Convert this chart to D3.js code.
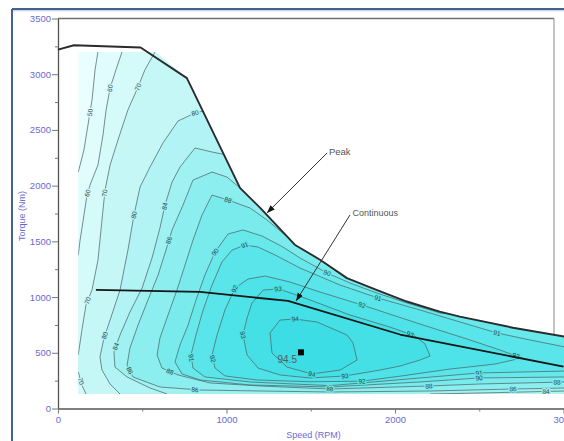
<!DOCTYPE html>
<html><head><meta charset="utf-8">
<script src="https://cdn.jsdelivr.net/npm/d3@7"></script>
<style>
html,body{margin:0;padding:0;background:#fff;}
svg{display:block;font-family:"Liberation Sans",Arial,sans-serif;}
</style></head><body>
<svg id="chart" width="564" height="441"></svg>
<script>
// ---------------- data ----------------
const speedTicks = [0, 1000, 2000, 3000];
const speedMinor = [500, 1500, 2500];
const torqueTicks = [0, 500, 1000, 1500, 2000, 2500, 3000, 3500];
const torqueMinor = [250, 750, 1250, 1750, 2250, 2750, 3250];

const levels = [50, 60, 70, 80, 84, 86, 88, 90, 91, 92, 93, 94];
const bandColors = ["#e9fefe", "#e0fcfc", "#d4fafa", "#c5f7f7", "#b2f4f5", "#a0f1f2",
  "#8deef0", "#79ebed", "#67e8eb", "#59e5e9", "#4de3e8", "#44e0e6", "#3cdde4"];

// peak torque curve (speed rpm, torque Nm)
const peakSpeed  = [0, 95, 490, 765, 1080, 1200, 1405, 1555, 1715, 1890, 2070, 2265, 2385, 2700, 3005];
const peakTorque = [3220, 3260, 3240, 2965, 1980, 1800, 1470, 1335, 1170, 1065, 960, 870, 825, 725, 645];
// continuous torque curve
const contSpeed  = [225, 843, 1365, 2030, 3000];
const contTorque = [1064, 1046, 965, 664, 375];
// measured map area
const mapMinSpeed = 120, mapMaxSpeed = 3010, mapMinTorque = 130, mapMaxTorque = 3200, mapTopCornerSpeed = 575;

// efficiency contours [speed, torque]
const c50 = [[237,3200],[220,3040],[202,2770],[178,2545],[154,2320],[120,2120]];
const c60 = [[380,3200],[344,3040],[309,2875],[285,2675],[267,2455],[237,2185],[190,2005],[172,1915],[154,1735],[131,1510],[120,1375]];
const c70 = [[576,3200],[516,3040],[475,2885],[415,2680],[356,2410],[309,2185],[279,1960],[261,1690],[237,1330],[202,1065],[166,930],[142,705],[120,480]];
const c70b = [[120,330],[142,210],[166,130]];
const c80 = [[861,2669],[813,2652],[712,2580],[623,2383],[546,2167],[487,1988],[451,1737],[415,1422],[368,1063],[309,794],[273,633],[249,462],[261,345],[309,220],[368,130]];
const c84 = [[985,2280],[914,2302],[813,2338],[724,2167],[677,2032],[635,1826],[605,1620],[558,1351],[499,1081],[427,866],[368,660],[332,507],[338,372],[410,283],[546,184],[647,130]];
const c84b = [[2208,130],[2505,139],[3010,157]];
const c86 = [[1080,1979],[1003,2077],[914,2122],[801,2050],[742,1826],[677,1602],[641,1422],[594,1198],[534,974],[475,749],[427,543],[410,390],[445,283],[605,193],[843,166],[1199,157],[1614,148],[2208,157],[2700,175],[3010,184]];
const c88 = [[1383,1512],[1240,1692],[1140,1799],[1009,1871],[914,1916],[855,1737],[801,1512],[754,1288],[706,1063],[653,839],[605,633],[588,480],[617,363],[712,301],[902,229],[1199,202],[1614,175],[2202,202],[2505,220],[3010,238]];
const c90 = [[2460,830],[2267,857],[2071,947],[1893,1036],[1733,1126],[1597,1216],[1436,1351],[1335,1449],[1211,1548],[1098,1602],[1009,1566],[932,1404],[872,1198],[819,974],[772,749],[724,570],[694,417],[736,310],[843,256],[1140,211],[1614,193],[2148,238],[2499,274],[3010,283]];
const c91 = [[3010,552],[2801,615],[2605,678],[2386,776],[2148,884],[1899,992],[1674,1108],[1436,1261],[1288,1378],[1187,1449],[1110,1467],[1033,1422],[973,1315],[914,1108],[861,884],[819,660],[789,480],[801,363],[872,283],[1140,238],[1614,205],[2148,274],[2499,319],[3010,336]];
const c92 = [[2753,453],[2623,525],[2445,615],[2148,758],[1804,929],[1555,1045],[1377,1135],[1229,1189],[1128,1162],[1050,1081],[991,884],[944,660],[914,480],[932,363],[991,292],[1181,256],[1496,240],[1804,245],[2030,290],[2327,354],[2594,399],[2753,453]];
const c93 = [[1217,1063],[1306,1072],[1365,1045],[1496,974],[1733,839],[1970,731],[2118,651],[2178,579],[2208,471],[2148,435],[2030,381],[1911,345],[1703,292],[1496,274],[1318,301],[1187,363],[1122,480],[1098,660],[1122,812],[1151,947],[1217,1063]];
const c94 = [[1407,803],[1318,794],[1258,678],[1270,498],[1359,372],[1507,310],[1674,345],[1775,435],[1751,588],[1715,660],[1537,776],[1407,803]];

// contour labels [level, speed, torque]
const contourLabels = [
  [50,172,2661],[60,303,2876],[70,475,2885],[80,813,2652],
  [60,172,1934],[70,273,1934],[80,451,1737],[84,629,1817],[88,1009,1871],[86,653,1512],[90,932,1404],[91,1110,1458],[92,1039,1081],[93,1306,1072],
  [70,166,974],[80,267,660],[84,350,552],[86,410,328],[70,125,240],[88,665,336],[91,783,453],[92,914,444],[86,813,175],[93,1098,660],
  [94,1407,803],[94,1507,310],[93,1703,283],[92,1804,240],[88,1614,175],
  [90,1597,1216],[91,1899,992],[92,1804,929],[93,2089,660],[91,2605,678],[90,2398,821],[92,2718,471],
  [91,2499,319],[90,2499,274],[88,2202,202],[86,2700,175],[84,2896,148],[88,2961,238]
];

// best efficiency point
const bestPoint = [1442, 504];
const bestLabel = "94.5";
// annotations: text, arrow tail, arrow tip, text anchor
const noteTexts = ["Peak", "Continuous"];
const noteTails = [[1597, 2293], [1733, 1737]];
const noteTips = [[1240, 1755], [1413, 965]];
const noteTextPos = [[1608, 2279], [1748, 1732]];

// ---------------- drawing ----------------
const W = 564, H = 441;
const svg = d3.select("#chart");
const x = d3.scaleLinear().domain([0, 3000]).range([58, 563.5]);
const y = d3.scaleLinear().domain([0, 3500]).range([408.5, 18.5]);
const line = d3.line().x(d => x(d[0])).y(d => y(d[1]));

const peak = peakSpeed.map((s, i) => [s, peakTorque[i]]);
const cont = contSpeed.map((s, i) => [s, contTorque[i]]);

const mapRegion = [[mapMinSpeed, mapMinTorque], [mapMinSpeed, mapMaxTorque], [mapTopCornerSpeed, mapMaxTorque]]
  .concat(peak.filter(p => p[0] >= 765))
  .concat([[mapMaxSpeed, peak[peak.length - 1][1]], [mapMaxSpeed, mapMinTorque]]);

const far = { l: -200, r: 3300, b: -200, t: 3600 };
const contours = [
  { level: 50, lines: [c50], ring: [...c50, [far.l,2120],[far.l,far.b],[far.r,far.b],[far.r,far.t],[237,far.t]] },
  { level: 60, lines: [c60], ring: [...c60, [far.l,1375],[far.l,far.b],[far.r,far.b],[far.r,far.t],[380,far.t]] },
  { level: 70, lines: [c70, c70b], ring: [...c70, [far.l,480],[far.l,330], ...c70b, [166,far.b],[far.r,far.b],[far.r,far.t],[576,far.t]] },
  { level: 80, lines: [c80], ring: [...c80, [368,far.b],[far.r,far.b],[far.r,far.t],[861,far.t]] },
  { level: 84, lines: [c84, c84b], ring: [...c84, [647,far.b],[2208,far.b], ...c84b, [far.r,157],[far.r,far.t],[985,far.t]] },
  { level: 86, lines: [c86], ring: [...c86, [far.r,184],[far.r,far.t],[1080,far.t]] },
  { level: 88, lines: [c88], ring: [...c88, [far.r,238],[far.r,far.t],[1383,far.t]] },
  { level: 90, lines: [c90], ring: [...c90, [far.r,283],[far.r,far.t],[2460,far.t]] },
  { level: 91, lines: [c91], ring: [...c91, [far.r,336],[far.r,552]] },
  { level: 92, lines: [c92], ring: c92 },
  { level: 93, lines: [c93], ring: c93 },
  { level: 94, lines: [c94], ring: c94 }
];

const defs = svg.append("defs");
defs.append("clipPath").attr("id", "mapClip").append("path").attr("d", line(mapRegion) + "Z");
defs.append("marker").attr("id", "arrow").attr("viewBox", "0 0 10 10")
  .attr("refX", 10).attr("refY", 5).attr("markerWidth", 8).attr("markerHeight", 8)
  .attr("markerUnits", "userSpaceOnUse").attr("orient", "auto")
  .append("path").attr("d", "M0,1.2L10,5L0,8.8Z").attr("fill", "#151515");

// outer window frame
svg.append("line").attr("x1", 12).attr("x2", W).attr("y1", 9).attr("y2", 9).attr("stroke", "#46618c").attr("stroke-width", 2);
svg.append("line").attr("x1", 12).attr("x2", 12).attr("y1", 9).attr("y2", H).attr("stroke", "#46618c").attr("stroke-width", 2);
svg.append("line").attr("x1", 13).attr("x2", W).attr("y1", 10.8).attr("y2", 10.8).attr("stroke", "#b9c7dc").attr("stroke-width", 1);

// interpolate peak torque
function peakAt(s) {
  for (let i = 1; i < peak.length; i++) {
    if (s <= peak[i][0]) {
      const a = peak[i - 1], b = peak[i];
      return a[1] + (b[1] - a[1]) * (s - a[0]) / (b[0] - a[0]);
    }
  }
  return peak[peak.length - 1][1];
}
// plot frame top and right
svg.append("line").attr("x1", 58).attr("x2", 554).attr("y1", y(3500)).attr("y2", y(3500)).attr("stroke", "#707070").attr("stroke-width", 1.5);
svg.append("line").attr("x1", 554).attr("x2", 554).attr("y1", y(3500)).attr("y2", y(peakAt(x.invert(554)))).attr("stroke", "#8a8a8a").attr("stroke-width", 1);

// axes
const tickColor = "#6a6ad0";
const fmt = d3.format("d");
const yAxis = svg.append("g").attr("transform", "translate(58,0)")
  .call(d3.axisLeft(y).tickValues(torqueTicks).tickFormat(fmt).tickSize(6).tickSizeOuter(0).tickPadding(1));
const yMinor = svg.append("g").attr("transform", "translate(58,0)")
  .call(d3.axisLeft(y).tickValues(torqueMinor).tickSize(3).tickSizeOuter(0).tickFormat(""));
const xAxis = svg.append("g").attr("transform", "translate(0,408.5)")
  .call(d3.axisBottom(x).tickValues(speedTicks).tickFormat(fmt).tickSize(5).tickSizeOuter(0).tickPadding(3));
const xMinor = svg.append("g").attr("transform", "translate(0,408.5)")
  .call(d3.axisBottom(x).tickValues(speedMinor).tickSize(3).tickSizeOuter(0).tickFormat(""));
[yAxis, yMinor, xAxis, xMinor].forEach(g => {
  g.selectAll("path.domain").attr("stroke", "#555").attr("stroke-width", 1.3);
  g.selectAll(".tick line").attr("stroke", "#777");
  g.selectAll("text").attr("fill", tickColor).attr("font-size", 9.5)
    .attr("font-family", "'Liberation Sans', Arial, sans-serif");
});
yMinor.select("path.domain").remove();
xMinor.select("path.domain").remove();

svg.append("text").attr("x", 313.5).attr("y", 437.5).attr("text-anchor", "middle")
  .attr("font-size", 9).attr("fill", tickColor).text("Speed (RPM)");
svg.append("text").attr("transform", "translate(24.5,216) rotate(-90)").attr("text-anchor", "middle")
  .attr("font-size", 9).attr("fill", tickColor).text("Torque (Nm)");

// efficiency map
const map = svg.append("g").attr("clip-path", "url(#mapClip)");
map.append("path").attr("d", line(mapRegion) + "Z").attr("fill", bandColors[0]);
map.selectAll("path.band").data(contours).join("path").attr("class", "band")
  .attr("d", d => line(d.ring) + "Z")
  .attr("fill", d => bandColors[levels.indexOf(d.level) + 1]);
contours.forEach(c => {
  c.lines.forEach(l => {
    map.append("path").attr("d", line(l)).attr("fill", "none")
      .attr("stroke", "#4f6868").attr("stroke-width", 0.75).attr("stroke-linejoin", "round");
  });
});

// labels snapped to their contour
function snap(level, s, t) {
  const c = contours.find(d => d.level === level);
  const px = x(s), py = y(t);
  let best = null;
  c.lines.forEach(l => {
    for (let i = 1; i < l.length; i++) {
      const ax = x(l[i - 1][0]), ay = y(l[i - 1][1]), bx = x(l[i][0]), by = y(l[i][1]);
      const dx = bx - ax, dy = by - ay, len2 = dx * dx + dy * dy || 1;
      let u = ((px - ax) * dx + (py - ay) * dy) / len2;
      u = Math.max(0, Math.min(1, u));
      const qx = ax + u * dx, qy = ay + u * dy;
      const dist = (qx - px) ** 2 + (qy - py) ** 2;
      if (!best || dist < best.dist) {
        let ang = Math.atan2(dy, dx) * 180 / Math.PI;
        if (ang > 90) ang -= 180;
        if (ang < -90) ang += 180;
        best = { dist, qx, qy, ang };
      }
    }
  });
  return best;
}
contourLabels.forEach(([lev, s, t]) => {
  const p = snap(lev, s, t);
  map.append("text")
    .attr("transform", `translate(${p.qx},${p.qy}) rotate(${p.ang})`)
    .attr("text-anchor", "middle").attr("dy", "0.35em")
    .attr("font-size", 6.5).attr("fill", "#2e3d3d")
    .attr("stroke", bandColors[levels.indexOf(lev) + 1]).attr("stroke-width", 2.6)
    .attr("paint-order", "stroke").text(lev);
});

// torque curves
svg.append("path").attr("d", line(peak)).attr("fill", "none").attr("stroke", "#2b2b2b").attr("stroke-width", 1.9).attr("stroke-linejoin", "round");
svg.append("path").attr("d", line(cont)).attr("fill", "none").attr("stroke", "#151515").attr("stroke-width", 1.8).attr("stroke-linejoin", "round");

// best point
svg.append("rect").attr("x", x(bestPoint[0]) - 3).attr("y", y(bestPoint[1]) - 3).attr("width", 6).attr("height", 6).attr("fill", "#000");
svg.append("text").attr("x", x(bestPoint[0]) - 4).attr("y", y(bestPoint[1]) + 11).attr("text-anchor", "end")
  .attr("font-size", 10).attr("fill", "#5a5a5a").text(bestLabel);

// annotations
noteTexts.forEach((txt, i) => {
  svg.append("line").attr("x1", x(noteTails[i][0])).attr("y1", y(noteTails[i][1]))
    .attr("x2", x(noteTips[i][0])).attr("y2", y(noteTips[i][1]))
    .attr("stroke", "#333").attr("stroke-width", 1).attr("marker-end", "url(#arrow)");
  svg.append("text").attr("x", x(noteTextPos[i][0])).attr("y", y(noteTextPos[i][1]))
    .attr("font-size", i === 0 ? 9.5 : 9).attr("fill", "#555").text(txt);
});
</script>
</body></html>
